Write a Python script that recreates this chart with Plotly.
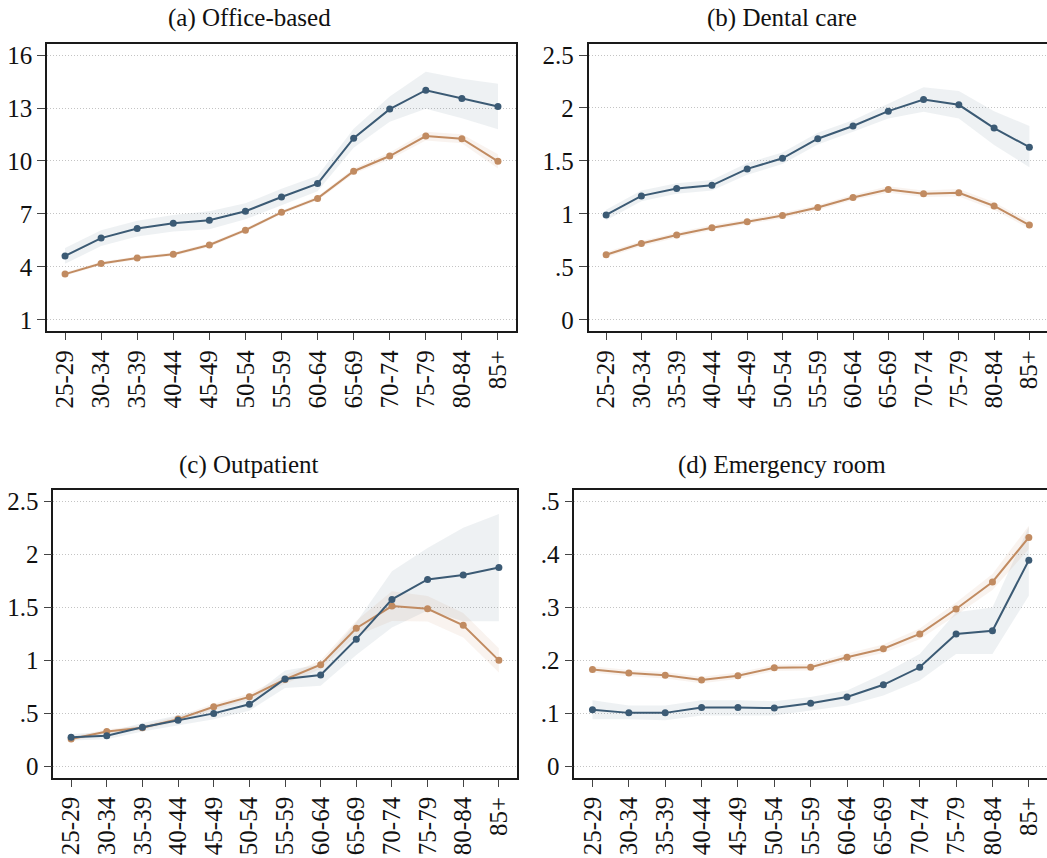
import plotly.graph_objects as go

W, H = 1047, 858

ages = ["25-29", "30-34", "35-39", "40-44", "45-49", "50-54", "55-59",
        "60-64", "65-69", "70-74", "75-79", "80-84", "85+"]

panel_titles = ["(a) Office-based", "(b) Dental care", "(c) Outpatient", "(d) Emergency room"]

# (a) Office-based
a_blue = [4.62, 5.63, 6.17, 6.47, 6.64, 7.15, 7.96, 8.72, 11.29, 12.94, 14.01, 13.54, 13.09]
a_blue_lo = [4.17, 5.18, 5.72, 6.00, 6.13, 6.70, 7.50, 8.28, 10.75, 12.22, 12.96, 12.42, 11.80]
a_blue_hi = [5.07, 6.08, 6.62, 6.94, 7.15, 7.60, 8.42, 9.16, 11.83, 13.66, 15.06, 14.66, 14.38]
a_orange = [3.59, 4.19, 4.50, 4.71, 5.24, 6.08, 7.09, 7.88, 9.42, 10.28, 11.41, 11.26, 9.98]
a_orange_lo = [3.49, 4.09, 4.40, 4.61, 5.13, 5.97, 6.98, 7.76, 9.27, 10.08, 11.16, 11.01, 9.58]
a_orange_hi = [3.69, 4.29, 4.60, 4.81, 5.35, 6.19, 7.20, 8.00, 9.57, 10.48, 11.66, 11.51, 10.38]

# (b) Dental care
b_blue = [0.99, 1.17, 1.24, 1.27, 1.425, 1.525, 1.71, 1.83, 1.97, 2.08, 2.03, 1.81, 1.63]
b_blue_lo = [0.94, 1.12, 1.19, 1.22, 1.37, 1.47, 1.655, 1.775, 1.90, 1.965, 1.90, 1.65, 1.44]
b_blue_hi = [1.04, 1.22, 1.29, 1.32, 1.48, 1.58, 1.765, 1.885, 2.04, 2.195, 2.16, 1.97, 1.83]
b_orange = [0.615, 0.72, 0.80, 0.87, 0.925, 0.985, 1.06, 1.155, 1.23, 1.19, 1.20, 1.075, 0.895]
b_orange_lo = [0.59, 0.695, 0.775, 0.845, 0.90, 0.96, 1.035, 1.13, 1.20, 1.16, 1.165, 1.04, 0.86]
b_orange_hi = [0.64, 0.745, 0.825, 0.895, 0.95, 1.01, 1.085, 1.18, 1.26, 1.22, 1.235, 1.11, 0.93]

# (c) Outpatient
c_blue = [0.274, 0.29, 0.37, 0.436, 0.50, 0.586, 0.824, 0.862, 1.20, 1.575, 1.763, 1.806, 1.875]
c_blue_lo = [0.245, 0.255, 0.33, 0.39, 0.445, 0.525, 0.74, 0.76, 1.05, 1.31, 1.47, 1.37, 1.37]
c_blue_hi = [0.305, 0.325, 0.41, 0.48, 0.555, 0.645, 0.905, 0.96, 1.36, 1.84, 2.06, 2.25, 2.38]
c_orange = [0.258, 0.33, 0.365, 0.446, 0.562, 0.656, 0.82, 0.959, 1.303, 1.512, 1.487, 1.331, 1.0]
c_orange_lo = [0.238, 0.31, 0.345, 0.42, 0.532, 0.626, 0.78, 0.919, 1.233, 1.372, 1.367, 1.216, 0.885]
c_orange_hi = [0.278, 0.35, 0.385, 0.472, 0.592, 0.686, 0.86, 0.999, 1.373, 1.652, 1.607, 1.446, 1.115]

# (d) Emergency room
d_blue = [0.107, 0.101, 0.101, 0.111, 0.111, 0.110, 0.119, 0.131, 0.154, 0.187, 0.250, 0.256, 0.389]
d_blue_lo = [0.089, 0.089, 0.087, 0.096, 0.096, 0.096, 0.106, 0.115, 0.134, 0.162, 0.212, 0.212, 0.322]
d_blue_hi = [0.125, 0.115, 0.115, 0.125, 0.125, 0.123, 0.131, 0.143, 0.175, 0.212, 0.291, 0.300, 0.452]
d_orange = [0.183, 0.176, 0.172, 0.163, 0.171, 0.186, 0.187, 0.206, 0.222, 0.25, 0.297, 0.348, 0.432]
d_orange_lo = [0.177, 0.170, 0.166, 0.157, 0.165, 0.180, 0.181, 0.199, 0.214, 0.240, 0.285, 0.333, 0.410]
d_orange_hi = [0.189, 0.182, 0.178, 0.169, 0.177, 0.192, 0.193, 0.213, 0.230, 0.260, 0.309, 0.363, 0.454]

a_ticks = [1, 4, 7, 10, 13, 16]
a_ticktext = ["1", "4", "7", "10", "13", "16"]
bc_ticks = [0, 0.5, 1, 1.5, 2, 2.5]
bc_ticktext = ["0", ".5", "1", "1.5", "2", "2.5"]
d_ticks = [0, 0.1, 0.2, 0.3, 0.4, 0.5]
d_ticktext = ["0", ".1", ".2", ".3", ".4", ".5"]

BLUE = "#3b5a74"
ORANGE = "#c18b61"
BLUE_BAND = "rgba(59,90,116,0.085)"
ORANGE_BAND = "rgba(193,139,97,0.10)"
FONT = "Liberation Serif"

panels = [
    dict(blue=a_blue, blo=a_blue_lo, bhi=a_blue_hi, orange=a_orange, olo=a_orange_lo, ohi=a_orange_hi,
         xdom=(47, W), ydom=(42, 331), xright=516, yrange=[0.34, 16.64], tv=a_ticks, tt=a_ticktext, right=False),
    dict(blue=b_blue, blo=b_blue_lo, bhi=b_blue_hi, orange=b_orange, olo=b_orange_lo, ohi=b_orange_hi,
         xdom=(588.5, W), ydom=(42, 331), xright=W, yrange=[-0.11, 2.606], tv=bc_ticks, tt=bc_ticktext, right=True),
    dict(blue=c_blue, blo=c_blue_lo, bhi=c_blue_hi, orange=c_orange, olo=c_orange_lo, ohi=c_orange_hi,
         xdom=(53.3, W), ydom=(490.7, 779.7), xright=516.7, yrange=[-0.11, 2.603], tv=bc_ticks, tt=bc_ticktext, right=False),
    dict(blue=d_blue, blo=d_blue_lo, bhi=d_blue_hi, orange=d_orange, olo=d_orange_lo, ohi=d_orange_hi,
         xdom=(574.3, W), ydom=(490.7, 779.7), xright=W, yrange=[-0.022, 0.5207], tv=d_ticks, tt=d_ticktext, right=True),
]

fig = go.Figure()
layout = {}
for i, p in enumerate(panels):
    sfx = "" if i == 0 else str(i + 1)
    xa, ya = "x" + sfx, "y" + sfx
    band_x = ages + ages[::-1]
    fig.add_trace(go.Scatter(x=band_x, y=p["bhi"] + p["blo"][::-1], fill="toself", fillcolor=BLUE_BAND,
                             line=dict(width=0), mode="lines", hoverinfo="skip", showlegend=False,
                             xaxis=xa, yaxis=ya))
    fig.add_trace(go.Scatter(x=band_x, y=p["ohi"] + p["olo"][::-1], fill="toself", fillcolor=ORANGE_BAND,
                             line=dict(width=0), mode="lines", hoverinfo="skip", showlegend=False,
                             xaxis=xa, yaxis=ya))
    fig.add_trace(go.Scatter(x=ages, y=p["orange"], mode="lines+markers",
                             line=dict(color=ORANGE, width=2), marker=dict(color=ORANGE, size=7),
                             showlegend=False, xaxis=xa, yaxis=ya))
    fig.add_trace(go.Scatter(x=ages, y=p["blue"], mode="lines+markers",
                             line=dict(color=BLUE, width=2), marker=dict(color=BLUE, size=7),
                             showlegend=False, xaxis=xa, yaxis=ya))
    x0 = p["xdom"][0]
    x1 = p["xright"]
    y0, y1 = p["ydom"]
    layout["xaxis" + sfx] = dict(
        domain=[x0 / W, x1 / W], anchor=ya, type="category", range=[-0.5, 12.5],
        showline=True, linecolor="#1a1a1a", linewidth=1.5, mirror=True,
        ticks="outside", ticklen=7, tickwidth=1.2, tickcolor="#444444",
        tickangle=-90, tickfont=dict(family=FONT, size=25, color="#111111"),
        showgrid=False, zeroline=False, fixedrange=True)
    layout["yaxis" + sfx] = dict(
        domain=[1 - y1 / H, 1 - y0 / H], anchor=xa, range=p["yrange"],
        tickmode="array", tickvals=p["tv"], ticktext=p["tt"],
        showline=True, linecolor="#1a1a1a", linewidth=1.5, mirror=(not p["right"]),
        ticks="outside", ticklen=8, tickwidth=1.2, tickcolor="#444444",
        tickfont=dict(family=FONT, size=25, color="#111111"),
        showgrid=True, gridcolor="#c4c4c4", gridwidth=1, griddash="1px,2px",
        zeroline=False, fixedrange=True)

title_pos = [(249, 16), (782, 16), (249, 465), (782, 465)]
annotations = []
for t, (tx, ty) in zip(panel_titles, title_pos):
    annotations.append(dict(text=t, x=tx / W, y=1 - ty / H, xref="paper", yref="paper",
                            xanchor="center", yanchor="middle", showarrow=False,
                            font=dict(family=FONT, size=25, color="#111111")))

fig.update_layout(
    width=W, height=H, margin=dict(l=0, r=0, t=0, b=0),
    paper_bgcolor="white", plot_bgcolor="white",
    annotations=annotations, showlegend=False, **layout)

fig.write_html("out.html")
